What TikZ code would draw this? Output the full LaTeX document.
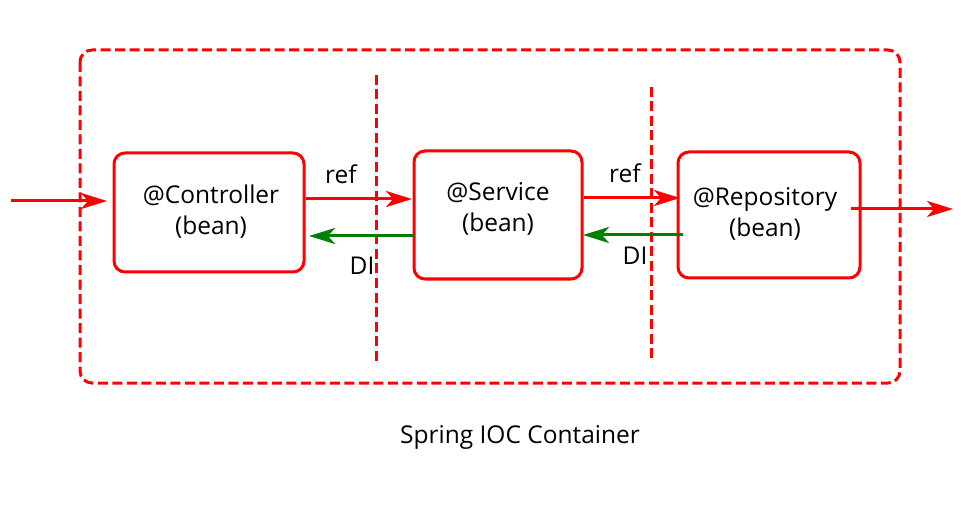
\documentclass[tikz,border=0pt]{standalone}
\usepackage{fontspec}
\setmainfont{Open Sans}
\usetikzlibrary{arrows.meta}
\definecolor{cred}{RGB}{255,0,0}
\definecolor{cgreen}{RGB}{0,128,0}
\begin{document}
\begin{tikzpicture}[x=1pt,y=-1pt,
  bean/.style={draw=cred,line width=3pt,rounded corners=11pt,inner sep=0pt},
  lbl/.style={font=\fontsize{24.5}{31}\selectfont,inner sep=0pt,align=center},
  refarrow/.style={draw=cred,line width=3pt,-{Stealth[length=26pt,width=16pt,inset=7pt]}},
  diarrow/.style={draw=cgreen,line width=3pt,-{Stealth[length=26pt,width=16pt,inset=7pt]}},
  dashline/.style={draw=cred,line width=3pt,dash pattern=on 10pt off 4.5pt}]
\useasboundingbox (0,0) rectangle (973,510);
% container
\draw[dashline,rounded corners=12pt] (80,50) rectangle (900,383);
\draw[dashline] (376,75) -- (376,362);
\draw[dashline] (651,87) -- (651,358);
% boxes
\node[bean,minimum width=190pt,minimum height=119pt] (ctrl) at (209,212.5) {};
\node[bean,minimum width=168pt,minimum height=128pt] (svc) at (498,215) {};
\node[bean,minimum width=182pt,minimum height=126pt] (repo) at (769,215) {};
% texts
\node[lbl] (ctrlt) at (211,212) {@Controller\\(bean)};
\node[lbl] (svct) at (498,209) {@Service\\(bean)};
\node[lbl] (repot) at (765,214) {@Repository\\(bean)};
% coordinates
\coordinate (in) at (11,201);
\coordinate (out) at (953,209);
\coordinate (ref1s) at (ctrl.east |- 0,199);
\coordinate (ref1e) at (412,199);
\coordinate (di1s) at (svc.west |- 0,236);
\coordinate (di1e) at (309,236);
\coordinate (ref2s) at (svc.east |- 0,198);
\coordinate (ref2e) at (680,198);
\coordinate (di2s) at (683,235);
\coordinate (di2e) at (583,235);
\coordinate (outs) at (851,209);
% arrows
\draw[refarrow] (in) -- (107,201);
\draw[refarrow] (ref1s) -- (ref1e);
\draw[diarrow] (di1s) -- (di1e);
\draw[refarrow] (ref2s) -- (ref2e);
\draw[diarrow] (di2s) -- (di2e);
\draw[refarrow] (outs) -- (out);
% labels
\node[lbl] (ref1) at (341,174) {ref};
\node[lbl] (di1) at (362,266) {DI};
\node[lbl] (ref2) at (625,173) {ref};
\node[lbl] (di2) at (635,256) {DI};
\node[lbl] (title) at (520,437) {Spring IOC Container};
\end{tikzpicture}
\end{document}
